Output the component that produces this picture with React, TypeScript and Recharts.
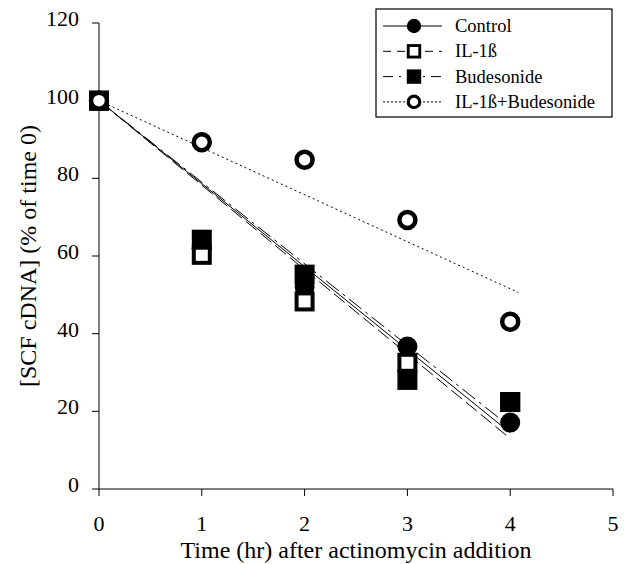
import React from "react";
import { ScatterChart, Scatter, XAxis, YAxis } from "recharts";

// measured time points and % of time 0 for each treatment
const times = [0, 1, 2, 3, 4];
const controlValues = [100, 62, 52, 36.7, 17.1];
const il1bValues = [100, 60.3, 48.3, 32.5, 22.4];
const budesonideValues = [100, 64.2, 55.2, 28.1, 22.4];
const comboValues = [100, 89.3, 84.8, 69.3, 43.1];

// fitted decay lines (start / end)
const fitX = [0, 4];
const controlFit = [100, 14.5];
const il1bFit = [100, 13];
const budesonideFit = [100, 16];
const comboFitX = [0, 4.08];
const comboFit = [100, 50.6];

const xTicks = [0, 1, 2, 3, 4, 5];
const yTicks = [0, 20, 40, 60, 80, 100, 120];

const serif = "Liberation Serif";
const textStyle = (size: number) => ({ fontFamily: serif, fontSize: size, fill: "#000" });

const toPoints = (xs: number[], ys: number[]) => xs.map((x, i) => ({ x, y: ys[i] }));

type MarkerKind = "filledCircle" | "openSquare" | "filledSquare" | "openCircle";

const Marker = ({ kind, cx, cy, s = 1 }: { kind: MarkerKind; cx: number; cy: number; s?: number }) => {
  if (kind === "filledCircle") return <circle cx={cx} cy={cy} r={10 * s} fill="#000" />;
  if (kind === "filledSquare")
    return <rect x={cx - 10 * s} y={cy - 10 * s} width={20 * s} height={20 * s} fill="#000" />;
  if (kind === "openSquare")
    return (
      <rect x={cx - 8 * s} y={cy - 8 * s} width={16 * s} height={16 * s} fill="#fff" stroke="#000" strokeWidth={4 * s} />
    );
  return <circle cx={cx} cy={cy} r={8 * s} fill="#fff" stroke="#000" strokeWidth={4.5 * s} />;
};

const series = [
  { name: "Control", values: controlValues, fitX, fit: controlFit, marker: "filledCircle" as MarkerKind, dash: undefined, legendDash: undefined },
  { name: "IL-1ß", values: il1bValues, fitX, fit: il1bFit, marker: "openSquare" as MarkerKind, dash: "14 5", legendDash: "8 6" },
  { name: "Budesonide", values: budesonideValues, fitX, fit: budesonideFit, marker: "filledSquare" as MarkerKind, dash: "16 5 3 5", legendDash: "10 6 2 6" },
  { name: "IL-1ß+Budesonide", values: comboValues, fitX: comboFitX, fit: comboFit, marker: "openCircle" as MarkerKind, dash: "2 3", legendDash: "2 2" },
];

const XTick = (props: any) => (
  <text x={props.x} y={props.y} dy={33} textAnchor="middle" style={textStyle(22)}>
    {props.payload.value}
  </text>
);

const YTick = (props: any) => (
  <text x={props.x} y={props.y} dy={3} textAnchor="end" style={textStyle(22)}>
    {props.payload.value}
  </text>
);

const XTitle = (props: any) => {
  const vb = props.viewBox;
  return (
    <text x={vb.x + vb.width / 2} y={vb.y + 69} textAnchor="middle" style={textStyle(24)}>
      Time (hr) after actinomycin addition
    </text>
  );
};

const YTitle = (props: any) => {
  const vb = props.viewBox;
  const cx = vb.x + 36;
  const cy = vb.y + vb.height / 2;
  return (
    <text x={cx} y={cy} transform={`rotate(-90, ${cx}, ${cy})`} textAnchor="middle" style={textStyle(24)}>
      [SCF cDNA] (% of time 0)
    </text>
  );
};

const LegendBox = () => (
  <svg width={238} height={110} style={{ position: "absolute", left: 375, top: 8 }}>
    <rect x={1} y={1} width={236} height={108} fill="#fff" stroke="#000" strokeWidth={1.2} />
    {series.map((s, i) => {
      const cy = 18 + i * 25.3;
      return (
        <g key={s.name}>
          <line x1={8} x2={67} y1={cy} y2={cy} stroke="#000" strokeWidth={1} strokeDasharray={s.legendDash} />
          <Marker kind={s.marker} cx={39} cy={cy} s={0.72} />
          <text x={80} y={cy + 6} style={textStyle(18.5)}>
            {s.name}
          </text>
        </g>
      );
    })}
  </svg>
);

export default function App() {
  return (
    <div style={{ position: "absolute", left: 0, top: 0, width: 625, height: 564, background: "#fff" }}>
      <ScatterChart width={625} height={564} margin={{ top: 23, right: 12, left: 0, bottom: 0 }}>
        <XAxis
          type="number"
          dataKey="x"
          domain={[0, 5]}
          ticks={xTicks}
          height={75}
          tickSize={7}
          tickMargin={2}
          axisLine={{ stroke: "#000" }}
          tickLine={{ stroke: "#000" }}
          tick={XTick}
          label={XTitle}
        />
        <YAxis
          type="number"
          dataKey="y"
          domain={[0, 120]}
          ticks={yTicks}
          width={99}
          tickSize={7}
          tickMargin={13}
          axisLine={{ stroke: "#000" }}
          tickLine={{ stroke: "#000" }}
          tick={YTick}
          label={YTitle}
        />
        {series.map((s) => (
          <Scatter
            key={s.name + "-fit"}
            data={toPoints(s.fitX, s.fit)}
            line={{ stroke: "#000", strokeWidth: 1, strokeDasharray: s.dash }}
            shape={() => <g />}
            legendType="none"
            isAnimationActive={false}
          />
        ))}
        {series.map((s) => (
          <Scatter
            key={s.name}
            name={s.name}
            data={toPoints(times, s.values)}
            shape={(p: any) => <Marker kind={s.marker} cx={p.cx} cy={p.cy} />}
            isAnimationActive={false}
          />
        ))}
      </ScatterChart>
      <LegendBox />
    </div>
  );
}
